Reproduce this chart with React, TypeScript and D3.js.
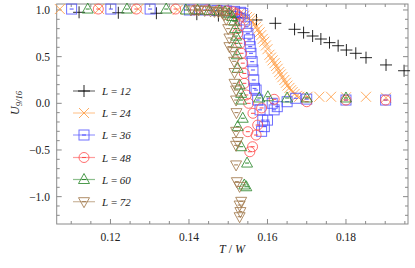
import React from 'react';
import * as d3 from 'd3';

type P = [number, number];

const L12: P[] = [
  [0.1120, 0.975], [0.1220, 0.97], [0.1317, 0.965], [0.1420, 0.955], [0.1475, 0.94], [0.1520, 0.92],
  [0.1572, 0.893], [0.1620, 0.857], [0.1669, 0.793], [0.1692, 0.757], [0.1715, 0.721], [0.1736, 0.689],
  [0.1758, 0.65], [0.1780, 0.617], [0.1801, 0.571], [0.1825, 0.536], [0.1851, 0.489], [0.1902, 0.411],
  [0.1948, 0.349],
];

const L24: P[] = [
  [0.1071, 1.01], [0.1171, 1.01], [0.1271, 1.01], [0.1371, 1.0], [0.1421, 1.0], [0.1461, 0.995],
  [0.1500, 0.99], [0.1510, 0.985], [0.1520, 0.975], [0.1530, 0.965], [0.1536, 0.95], [0.1542, 0.94],
  [0.1548, 0.925], [0.1554, 0.91], [0.1558, 0.89], [0.1562, 0.87], [0.1567, 0.85], [0.1571, 0.82],
  [0.1575, 0.79], [0.1580, 0.76], [0.1584, 0.73], [0.1588, 0.69], [0.1592, 0.66], [0.1596, 0.62],
  [0.1600, 0.58], [0.1605, 0.52], [0.1609, 0.49], [0.1613, 0.46], [0.1618, 0.43], [0.1622, 0.40],
  [0.1626, 0.37], [0.1630, 0.335], [0.1634, 0.31], [0.1638, 0.28], [0.1643, 0.25], [0.1647, 0.22],
  [0.1651, 0.19], [0.1656, 0.165], [0.1660, 0.14], [0.1664, 0.12], [0.1669, 0.10], [0.1675, 0.08],
  [0.1681, 0.07], [0.1702, 0.07], [0.1732, 0.07], [0.1762, 0.07], [0.1800, 0.065], [0.1851, 0.07],
  [0.1902, 0.06],
];

const L36: P[] = [
  [0.1101, 1.01], [0.1201, 1.01], [0.1301, 1.01], [0.1401, 1.0], [0.1441, 1.0], [0.1471, 0.995],
  [0.1496, 0.99], [0.1516, 0.985], [0.1531, 0.975], [0.1537, 0.964], [0.1541, 0.893], [0.1546, 0.82],
  [0.1550, 0.75], [0.1554, 0.68], [0.1556, 0.607], [0.1558, 0.536], [0.1561, 0.446], [0.1563, 0.357],
  [0.1565, 0.25], [0.1567, 0.16], [0.1571, 0.142], [0.1575, 0.035], [0.1581, -0.07], [0.1588, -0.18],
  [0.1592, -0.25], [0.1585, -0.30], [0.1600, -0.18], [0.1612, 0.0], [0.1617, -0.07], [0.1625, -0.036],
  [0.1650, 0.017], [0.1672, 0.054], [0.1700, 0.045], [0.1800, 0.035], [0.1901, 0.035],
];

const L48: P[] = [
  [0.1169, 1.01], [0.1266, 1.01], [0.1366, 1.01], [0.1416, 1.0], [0.1446, 1.0], [0.1476, 0.995],
  [0.1496, 0.99], [0.1511, 0.98], [0.1521, 0.96], [0.1526, 0.90], [0.1530, 0.83], [0.1524, 0.75],
  [0.1531, 0.643], [0.1534, 0.536], [0.1537, 0.43], [0.1541, 0.32], [0.1541, 0.214], [0.1546, 0.089],
  [0.1552, 0.0], [0.1563, -0.107], [0.1575, -0.233], [0.1571, -0.34], [0.1550, -0.304], [0.1562, -0.465],
  [0.1555, -0.519], [0.1585, -0.05], [0.1617, 0.043], [0.1700, 0.017], [0.1800, 0.035], [0.1901, 0.035],
];

const L60: P[] = [
  [0.1142, 1.01], [0.1242, 1.01], [0.1342, 1.01], [0.1392, 1.0], [0.1422, 1.0], [0.1452, 0.995],
  [0.1477, 0.99], [0.1492, 0.98], [0.1502, 0.96], [0.1510, 0.93], [0.1515, 0.88], [0.1518, 0.80],
  [0.1520, 0.72], [0.1520, 0.643], [0.1522, 0.52], [0.1524, 0.375], [0.1529, 0.196], [0.1533, 0.107],
  [0.1533, 0.035], [0.1537, -0.16], [0.1524, -0.25], [0.1533, -0.465], [0.1548, -0.64], [0.1541, -0.875],
  [0.1546, -0.894], [0.1579, 0.057], [0.1601, 0.07], [0.1650, 0.057], [0.1700, 0.057], [0.1800, 0.057],
];

const L72: P[] = [
  [0.1405, 1.0], [0.1425, 1.0], [0.1440, 0.995], [0.1455, 0.99], [0.1465, 0.985], [0.1475, 0.98],
  [0.1485, 0.97], [0.1490, 0.95], [0.1495, 0.90], [0.1500, 0.80], [0.1503, 0.70], [0.1503, 0.607],
  [0.1512, 0.553], [0.1515, 0.45], [0.1516, 0.33], [0.1516, 0.214], [0.1520, 0.142], [0.1520, 0.035],
  [0.1521, -0.10], [0.1520, -0.30], [0.1524, -0.41], [0.1520, -0.45], [0.1520, -0.66], [0.1522, -0.84],
  [0.1529, -0.89], [0.1533, -1.05], [0.1529, -1.09], [0.1531, -1.16], [0.1529, -1.215],
];

const seriesData: P[][] = [L12, L24, L36, L48, L60, L72];
const seriesLabels = ['12', '24', '36', '48', '60', '72'];
const seriesColors = ['#000000', '#FF9E45', '#4B4BFF', '#FF4B4B', '#2F8A2F', '#A27A4E'];
const seriesShapes = ['plus', 'cross', 'square', 'circle', 'tri', 'itri'];

const xMajor = [0.12, 0.14, 0.16, 0.18];
const yMajor = [-1.0, -0.5, 0.0, 0.5, 1.0];

function Marker({ shape, cx, cy, color }: { shape: string; cx: number; cy: number; color: string }) {
  const s = 5;
  const common = { fill: 'none', stroke: color, strokeWidth: 1 };
  let m: React.ReactNode = null;
  if (shape === 'plus') {
    m = <path d={`M${cx - 6},${cy}H${cx + 6}M${cx},${cy - 6}V${cy + 6}`} {...common} strokeOpacity={0.85} />;
  } else if (shape === 'cross') {
    m = <path d={`M${cx - s},${cy - s}L${cx + s},${cy + s}M${cx - s},${cy + s}L${cx + s},${cy - s}`} {...common} strokeOpacity={0.85} />;
  } else if (shape === 'square') {
    m = <rect x={cx - s} y={cy - s} width={2 * s} height={2 * s} {...common} strokeOpacity={0.8} />;
  } else if (shape === 'circle') {
    m = <circle cx={cx} cy={cy} r={s} {...common} strokeOpacity={0.8} />;
  } else if (shape === 'tri') {
    m = <path d={`M${cx},${cy - 6}L${cx + 5.5},${cy + 4}L${cx - 5.5},${cy + 4}Z`} {...common} strokeOpacity={0.85} />;
  } else {
    m = <path d={`M${cx},${cy + 6}L${cx + 5.5},${cy - 4}L${cx - 5.5},${cy - 4}Z`} {...common} strokeOpacity={0.85} />;
  }
  return (
    <g>
      {m}
      {shape !== 'plus' && shape !== 'cross' && (
        <path d={`M${cx - 2},${cy}H${cx + 2}`} stroke={color} strokeWidth={1} />
      )}
    </g>
  );
}

export default function App() {
  const W = 415, H = 268;
  const left = 56.7, right = 408, top = 4, bottom = 224;
  const x = d3.scaleLinear().domain([0.1063, 0.1958]).range([left, right]);
  const y = d3.scaleLinear().domain([-1.293, 1.064]).range([bottom, top]);

  const xMinor = d3.range(0.11, 0.1955, 0.005).filter((v) => !xMajor.some((m) => Math.abs(m - v) < 1e-6));
  const yMinor = d3.range(-1.2, 1.05, 0.1).filter((v) => !yMajor.some((m) => Math.abs(m - v) < 1e-6));

  const font = '"Liberation Serif", "Times New Roman", serif';
  const axisColor = '#8a8a8a';
  const fmt = (v: number) => (v < 0 ? '\u2212' : '') + Math.abs(v).toFixed(1);

  const legendY = [91, 113, 135, 157.5, 179.5, 201.7];

  return (
    <svg width={W} height={H} style={{ position: 'absolute', left: 0, top: 0, background: '#fff' }} fontFamily={font}>
      {/* frame */}
      <rect x={left} y={top} width={right - left} height={bottom - top} fill="none" stroke={axisColor} strokeWidth={1} />
      {/* x ticks */}
      {xMajor.map((v) => (
        <g key={'xm' + v}>
          <line x1={x(v)} x2={x(v)} y1={bottom} y2={bottom - 5} stroke={axisColor} />
          <line x1={x(v)} x2={x(v)} y1={top} y2={top + 5} stroke={axisColor} />
          <text x={x(v)} y={241} textAnchor="middle" fontSize={11.5} fill="#222">{v.toFixed(2)}</text>
        </g>
      ))}
      {xMinor.map((v) => (
        <g key={'xn' + v}>
          <line x1={x(v)} x2={x(v)} y1={bottom} y2={bottom - 3} stroke={axisColor} />
          <line x1={x(v)} x2={x(v)} y1={top} y2={top + 3} stroke={axisColor} />
        </g>
      ))}
      {/* y ticks */}
      {yMajor.map((v) => (
        <g key={'ym' + v}>
          <line x1={left} x2={left + 5} y1={y(v)} y2={y(v)} stroke={axisColor} />
          <line x1={right} x2={right - 5} y1={y(v)} y2={y(v)} stroke={axisColor} />
          <text x={50} y={y(v) + 4} textAnchor="end" fontSize={11.5} fill="#222">{fmt(v)}</text>
        </g>
      ))}
      {yMinor.map((v) => (
        <g key={'yn' + v}>
          <line x1={left} x2={left + 3} y1={y(v)} y2={y(v)} stroke={axisColor} />
          <line x1={right} x2={right - 3} y1={y(v)} y2={y(v)} stroke={axisColor} />
        </g>
      ))}
      {/* data */}
      <g>
        {seriesData.map((data, si) => (
          <g key={'s' + si}>
            {data.map((d, i) => (
              <Marker key={i} shape={seriesShapes[si]} cx={x(d[0])} cy={y(d[1])} color={seriesColors[si]} />
            ))}
          </g>
        ))}
      </g>
      {/* legend */}
      {seriesLabels.map((lab, i) => (
        <g key={'lg' + i}>
          <line x1={73} x2={95} y1={legendY[i]} y2={legendY[i]} stroke={seriesColors[i]} strokeOpacity={0.55} strokeWidth={1.2} />
          <Marker shape={seriesShapes[i]} cx={84} cy={legendY[i]} color={seriesColors[i]} />
          <text x={102} y={legendY[i] + 4} fontSize={11} fill="#222">
            <tspan fontStyle="italic">L</tspan>
            <tspan> = </tspan>
            <tspan fontStyle="italic">{lab}</tspan>
          </text>
        </g>
      ))}
      {/* axis labels */}
      <text x={232} y={253} textAnchor="middle" fontSize={12} fill="#222">
        <tspan fontStyle="italic">T</tspan>
        <tspan> / </tspan>
        <tspan fontStyle="italic">W</tspan>
      </text>
      <text transform="translate(19,103) rotate(-90)" textAnchor="middle" fontSize={12} fill="#222">
        <tspan fontStyle="italic">U</tspan>
        <tspan fontSize={8.5} dy={3} fontStyle="italic">9/16</tspan>
      </text>
    </svg>
  );
}
